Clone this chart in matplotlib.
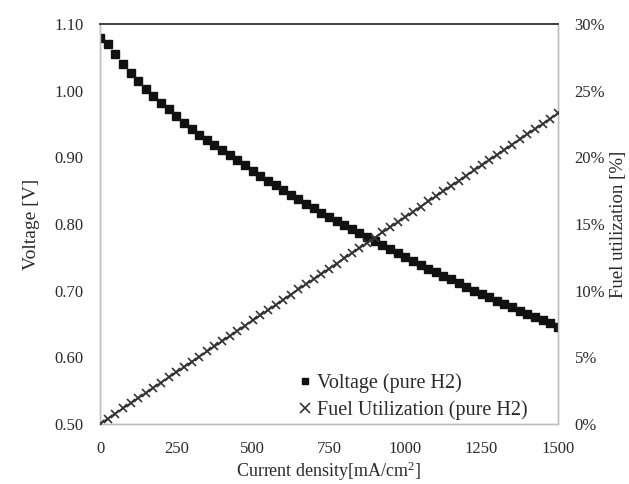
import matplotlib
matplotlib.use("Agg")
import matplotlib.pyplot as plt
from matplotlib.ticker import FuncFormatter

# current density [mA/cm2]
current = [0, 25, 50, 75, 100, 125, 150, 175, 200, 225,
           250, 275, 300, 325, 350, 375, 400, 425, 450, 475,
           500, 525, 550, 575, 600, 625, 650, 675, 700, 725,
           750, 775, 800, 825, 850, 875, 900, 925, 950, 975,
           1000, 1025, 1050, 1075, 1100, 1125, 1150, 1175, 1200, 1225,
           1250, 1275, 1300, 1325, 1350, 1375, 1400, 1425, 1450, 1475,
           1500]

# voltage [V], pure H2
voltage = [1.080, 1.070, 1.055, 1.041, 1.027, 1.015, 1.003, 0.992, 0.982, 0.972,
           0.962, 0.952, 0.943, 0.934, 0.926, 0.918, 0.911, 0.903, 0.896, 0.888,
           0.880, 0.872, 0.865, 0.858, 0.851, 0.844, 0.837, 0.830, 0.824, 0.817,
           0.811, 0.804, 0.798, 0.792, 0.786, 0.780, 0.774, 0.768, 0.762, 0.756,
           0.750, 0.744, 0.739, 0.733, 0.728, 0.722, 0.717, 0.711, 0.706, 0.700,
           0.695, 0.690, 0.685, 0.680, 0.675, 0.670, 0.665, 0.661, 0.656, 0.651,
           0.646]

# fuel utilization [%], pure H2
fuel_util = [0.00, 0.39, 0.78, 1.17, 1.55, 1.94, 2.33, 2.72, 3.11, 3.50,
             3.88, 4.27, 4.66, 5.05, 5.44, 5.83, 6.21, 6.60, 6.99, 7.38,
             7.77, 8.16, 8.54, 8.93, 9.32, 9.71, 10.10, 10.49, 10.87, 11.26,
             11.65, 12.04, 12.43, 12.82, 13.20, 13.59, 13.98, 14.37, 14.76, 15.15,
             15.53, 15.92, 16.31, 16.70, 17.09, 17.48, 17.86, 18.25, 18.64, 19.03,
             19.42, 19.81, 20.19, 20.58, 20.97, 21.36, 21.75, 22.14, 22.52, 22.91,
             23.30]

x_ticks = [0, 250, 500, 750, 1000, 1250, 1500]
v_ticks = [0.50, 0.60, 0.70, 0.80, 0.90, 1.00, 1.10]
u_ticks = [0, 5, 10, 15, 20, 25, 30]

plt.rcParams['font.family'] = ['Liberation Serif', 'DejaVu Serif']
plt.rcParams['mathtext.fontset'] = 'custom'
plt.rcParams['mathtext.rm'] = 'Liberation Serif'
txt = '#2a2a2a'

fig = plt.figure(figsize=(6.29, 4.84), dpi=100)
ax = fig.add_axes([0.159, 0.124, 0.728, 0.826])
ax2 = ax.twinx()

v_line, = ax.plot(current, voltage, linestyle='none', marker='s', markersize=5.5,
                  color='#111111', label='Voltage (pure H2)', zorder=3)
u_line, = ax2.plot(current, fuel_util, linestyle='-', linewidth=1.3, marker='x',
                   markersize=5.5, markeredgewidth=1.2, color='#333333',
                   label='Fuel Utilization (pure H2)', zorder=3)

ax.set_xlim(0, 1500)
ax.set_ylim(0.50, 1.10)
ax2.set_ylim(0, 30)
ax.set_xticks(x_ticks)
ax.set_yticks(v_ticks)
ax2.set_yticks(u_ticks)
ax.yaxis.set_major_formatter(FuncFormatter(lambda v, p: f"{v:.2f}"))
ax2.yaxis.set_major_formatter(FuncFormatter(lambda v, p: f"{v:.0f}%"))

for a in (ax, ax2):
    for s in ('left', 'right', 'bottom'):
        a.spines[s].set_color('#bdbdbd')
        a.spines[s].set_linestyle((0, (2, 1)))
        a.spines[s].set_linewidth(1.0)
    a.spines['top'].set_color('#444444')
    a.spines['top'].set_linewidth(1.4)
    a.tick_params(length=0, labelsize=12, labelcolor=txt)
ax.tick_params(axis='y', pad=12)
ax.tick_params(axis='x', pad=12)
ax2.tick_params(axis='y', pad=12)

ax.set_xlabel('Current density[mA/cm$\\mathrm{^2}$]', fontsize=13, color=txt)
ax.xaxis.set_label_coords(0.5, -0.09)
ax.set_ylabel('Voltage [V]', fontsize=14, color=txt, labelpad=10)
ax2.set_ylabel('Fuel utilization [%]', fontsize=13.5, color=txt, rotation=90, labelpad=3)

leg = ax.legend([v_line, u_line], ['Voltage (pure H2)', 'Fuel Utilization (pure H2)'],
                loc='lower left', bbox_to_anchor=(0.435, 0.01), frameon=False,
                fontsize=14.5, handlelength=0.6, handletextpad=0.3, labelspacing=0.35,
                borderpad=0, borderaxespad=0, markerscale=0.9)
for t in leg.get_texts():
    t.set_color(txt)
leg.legend_handles[1].set_linestyle('none')
leg.legend_handles[1].set_markersize(6.5)

fig.savefig('out.png', dpi=100)
